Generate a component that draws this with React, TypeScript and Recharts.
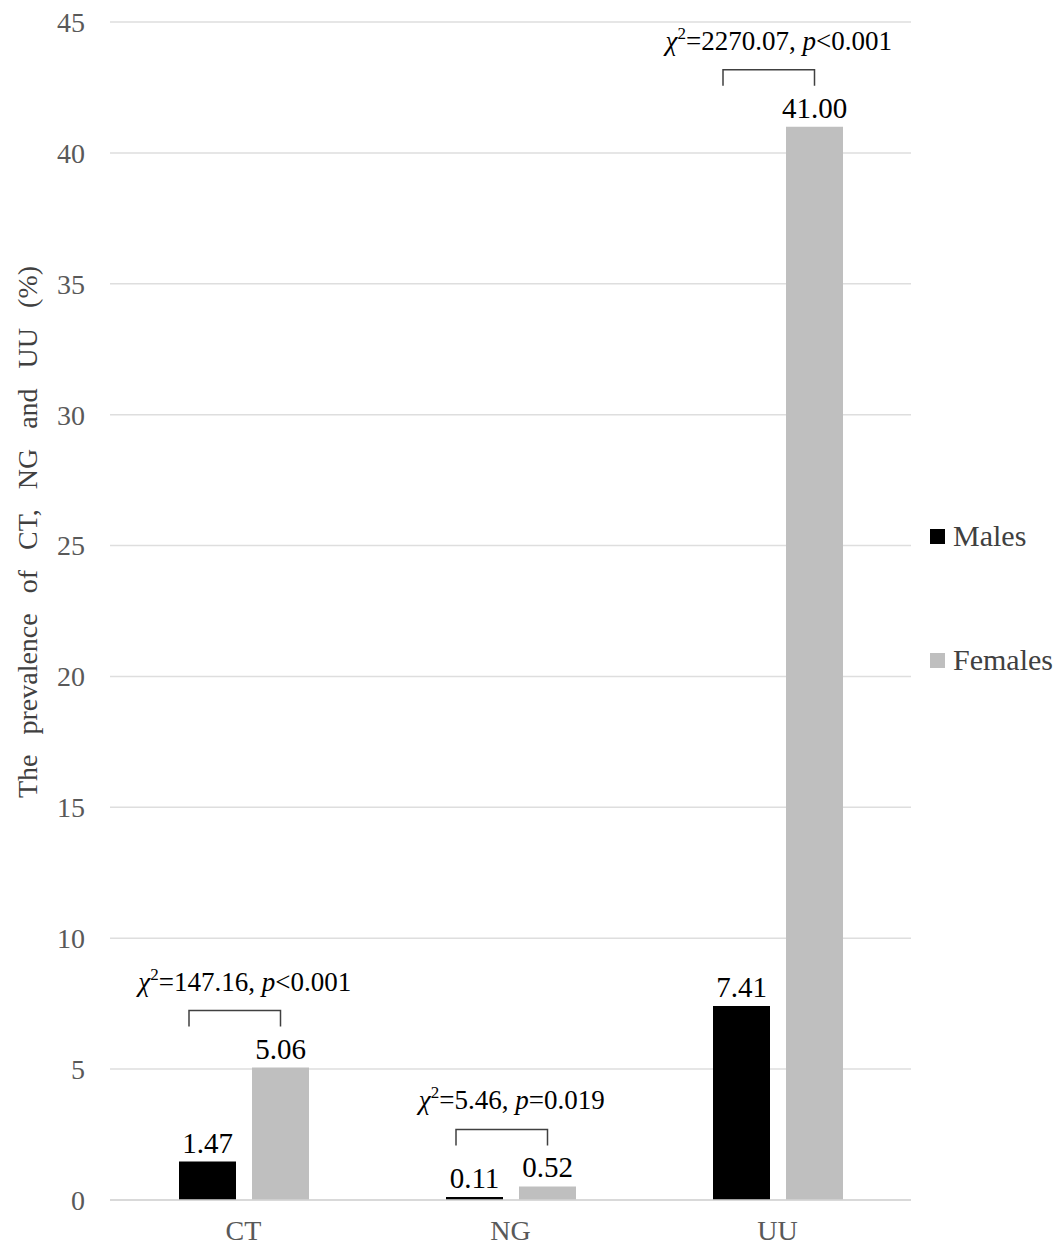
import React from "react";
import {
  Bar,
  BarChart,
  CartesianGrid,
  LabelList,
  Legend,
  XAxis,
  YAxis,
} from "recharts";

const categories = ["CT", "NG", "UU"];
const seriesNames = ["Males", "Females"];
const males = [1.47, 0.11, 7.41];
const females = [5.06, 0.52, 41.0];
const chiSquare = ["147.16", "5.46", "2270.07"];
const pValues = ["<0.001", "=0.019", "<0.001"];
const yTicks = [0, 5, 10, 15, 20, 25, 30, 35, 40, 45];

const data = categories.map((name, i) => ({
  name,
  males: males[i],
  females: females[i],
}));

const FONT = '"Liberation Serif", "Times New Roman", serif';
const BAR = 57;
const GAP = 16;

// bracket + chi-square text above each pair, anchored to the female bar
function Bracket(props: any) {
  const vb = props.viewBox || props;
  const x = vb.x;
  const y = vb.y;
  const width = vb.width;
  const index =
    typeof props.index === "number" ? props.index : females.indexOf(props.value);
  const right = x + width / 2;
  const left = x - GAP - BAR + 10;
  const top = y - 57;
  const cx = (left + right) / 2 + 10;
  return (
    <g>
      <path
        d={`M${left},${top + 16}V${top}H${right}V${top + 16}`}
        fill="none"
        stroke="#404040"
        strokeWidth={1.5}
      />
      <text
        x={cx}
        y={top - 20}
        textAnchor="middle"
        fontFamily={FONT}
        fontSize={27}
        fill="#000"
      >
        <tspan fontStyle="italic">χ</tspan>
        <tspan fontSize={17} dy={-11}>
          2
        </tspan>
        <tspan dy={11}>{"=" + chiSquare[index] + ", "}</tspan>
        <tspan fontStyle="italic">p</tspan>
        <tspan>{pValues[index]}</tspan>
      </text>
    </g>
  );
}

function AxisTitle(props: any) {
  const vb = props.viewBox;
  const cx = 27;
  const cy = vb.y + vb.height / 2 - 79;
  return (
    <text
      x={cx}
      y={cy}
      transform={`rotate(-90, ${cx}, ${cy})`}
      textAnchor="middle"
      dominantBaseline="central"
      fontFamily={FONT}
      fontSize={28}
      fill="#404040"
      style={{ wordSpacing: 13 }}
    >
      The prevalence of CT, NG and UU (%)
    </text>
  );
}

function LegendBox(props: any) {
  const items = [...(props.payload || [])].sort(
    (a: any, b: any) => seriesNames.indexOf(a.value) - seriesNames.indexOf(b.value)
  );
  return (
    <div style={{ fontFamily: FONT, fontSize: 30, color: "#404040" }}>
      {items.map((it: any, i: number) => (
        <div
          key={i}
          style={{
            display: "flex",
            alignItems: "center",
            height: 30,
            marginBottom: 94,
          }}
        >
          <span
            style={{
              display: "inline-block",
              width: 15,
              height: 15,
              background: it.color,
              marginRight: 8,
            }}
          />
          <span>{it.value}</span>
        </div>
      ))}
    </div>
  );
}

export default function App() {
  return (
    <div style={{ position: "absolute", left: 0, top: 0, width: 1063, height: 1255, background: "#fff" }}>
      <BarChart
        width={1063}
        height={1255}
        data={data}
        margin={{ top: 22, right: 152, bottom: 10, left: 10 }}
        barSize={BAR}
        barGap={GAP}
      >
        <CartesianGrid vertical={false} stroke="#dedede" strokeWidth={1.5} />
        <XAxis
          dataKey="name"
          height={45}
          axisLine={{ stroke: "#d4d4d4", strokeWidth: 1.5 }}
          tickLine={false}
          tickSize={0}
          tickMargin={20}
          tick={{ fontFamily: FONT, fontSize: 28, fill: "#595959" }}
        />
        <YAxis
          width={100}
          domain={[0, 45]}
          ticks={yTicks}
          interval={0}
          axisLine={false}
          tickLine={false}
          tickSize={0}
          tickMargin={25}
          tick={{ fontFamily: FONT, fontSize: 28, fill: "#595959" }}
          label={{ content: AxisTitle }}
        />
        <Legend
          layout="horizontal"
          align="center"
          verticalAlign="middle"
          content={LegendBox}
          wrapperStyle={{ left: 930, top: 521, width: 133, height: 160 }}
        />
        <Bar dataKey="males" name={seriesNames[0]} fill="#000000" isAnimationActive={false}>
          <LabelList
            dataKey="males"
            position="top"
            offset={9}
            formatter={(v: any) => Number(v).toFixed(2)}
            style={{ fontFamily: FONT, fontSize: 29, fill: "#000" }}
          />
        </Bar>
        <Bar dataKey="females" name={seriesNames[1]} fill="#bfbfbf" isAnimationActive={false}>
          <LabelList
            dataKey="females"
            position="top"
            offset={9}
            formatter={(v: any) => Number(v).toFixed(2)}
            style={{ fontFamily: FONT, fontSize: 29, fill: "#000" }}
          />
          <LabelList dataKey="females" content={Bracket} />
        </Bar>
      </BarChart>
    </div>
  );
}
